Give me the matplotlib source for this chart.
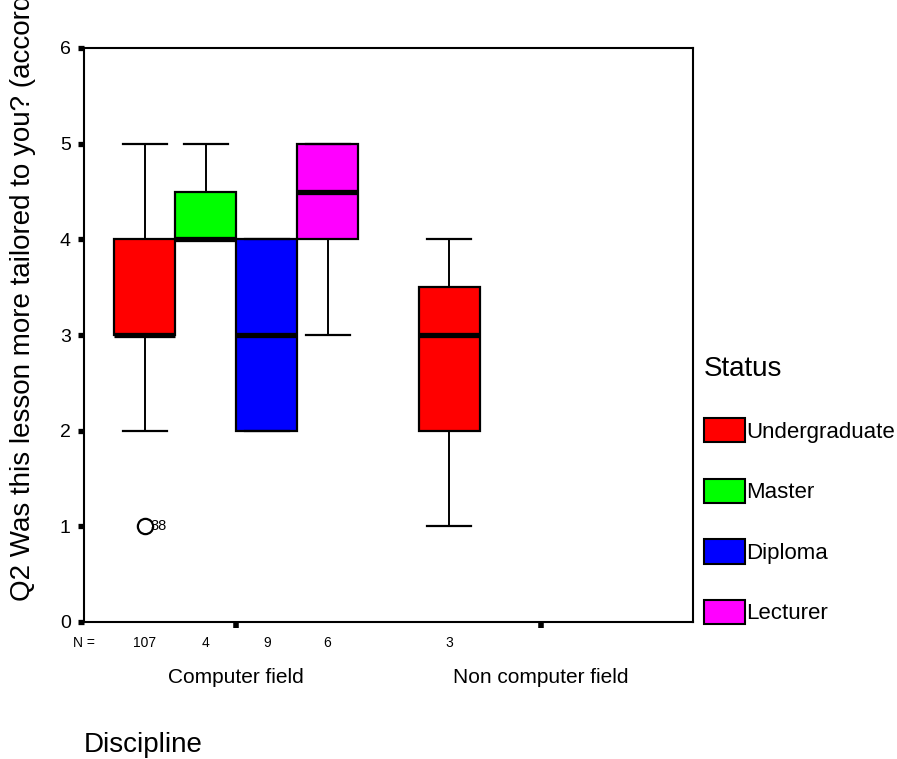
import matplotlib
matplotlib.use('Agg')
import matplotlib.pyplot as plt
import matplotlib.transforms as mtransforms
from matplotlib.patches import Patch

plt.rcParams['font.family'] = ['Liberation Sans', 'DejaVu Sans']

disciplines = ['Computer field', 'Non computer field']
statuses = ['Undergraduate', 'Master', 'Diploma', 'Lecturer']
status_colors = ['#ff0000', '#00ff00', '#0000ff', '#ff00ff']

# one entry per box drawn
box_discipline = [0, 0, 0, 0, 1]
box_status = [0, 1, 2, 3, 0]
whis_lo = [2, 4, 2, 3, 1]
q1 = [3, 4, 2, 4, 2]
median = [3, 4, 3, 4.5, 3]
q3 = [4, 4.5, 4, 5, 3.5]
whis_hi = [5, 5, 4, 5, 4]
n_cases = [107, 4, 9, 6, 3]

# outlier: box index, value, case label
outlier_box = [0]
outlier_value = [1]
outlier_label = ['38']

box_width = 0.2

fig = plt.figure(figsize=(8.97, 7.59), dpi=100)
ax = fig.add_axes([84 / 897, 1 - 622 / 759, (693 - 84) / 897, (622 - 48) / 759])

positions = [d + 1 + (s - 1.5) * box_width for d, s in zip(box_discipline, box_status)]

stats = []
for i in range(len(positions)):
    fl = [outlier_value[k] for k, b in enumerate(outlier_box) if b == i]
    stats.append(dict(whislo=whis_lo[i], q1=q1[i], med=median[i], q3=q3[i],
                      whishi=whis_hi[i], fliers=fl))

bp = ax.bxp(stats, positions=positions, widths=box_width, capwidths=0.145,
            patch_artist=True, manage_ticks=False,
            boxprops=dict(edgecolor='black', linewidth=1.6),
            medianprops=dict(color='black', linewidth=3.8, solid_capstyle='butt'),
            whiskerprops=dict(color='black', linewidth=1.4),
            capprops=dict(color='black', linewidth=1.6),
            flierprops=dict(marker='o', markersize=11, markerfacecolor='white',
                            markeredgecolor='black', markeredgewidth=1.6))
for patch, s in zip(bp['boxes'], box_status):
    patch.set_facecolor(status_colors[s])

for b, v, lab in zip(outlier_box, outlier_value, outlier_label):
    ax.text(positions[b] + 0.018, v, lab, fontsize=10.5, ha='left', va='center')

ax.set_xlim(0.5, 2.5)
ax.set_ylim(0, 6)
ax.set_yticks(range(7))
ax.set_xticks([1, 2])
ax.set_xticklabels(disciplines, fontsize=15)
ax.tick_params(axis='y', length=4.5, width=3.8, labelsize=14, pad=5)
ax.tick_params(axis='x', length=4, width=4, pad=29)
for sp in ax.spines.values():
    sp.set_linewidth(1.5)

# N = row
trans = mtransforms.blended_transform_factory(ax.transData, ax.transAxes)
ax.text(0.536, -0.037, 'N =', transform=trans, fontsize=10, ha='right', va='center')
for p, n in zip(positions, n_cases):
    ax.text(p, -0.037, str(n), transform=trans, fontsize=10, ha='center', va='center')

fig.text(23 / 897, 1 - 601 / 759, 'Q2 Was this lesson more tailored to you? (according to level)',
         rotation=90, ha='center', va='bottom', fontsize=20)
fig.text(84 / 897, 1 - 745 / 759, 'Discipline', ha='left', va='center', fontsize=20)

handles = [Patch(facecolor=c, edgecolor='black', linewidth=1.5) for c in status_colors]
leg = fig.legend(handles, statuses, loc='upper left', bbox_to_anchor=(704 / 897, 1 - 356 / 759),
                 frameon=False, title='Status', title_fontsize=20, fontsize=16,
                 alignment='left', borderpad=0, borderaxespad=0, handlelength=1.85,
                 handleheight=1.31, handletextpad=0.05, labelspacing=1.62)

fig.savefig('out.png', dpi=100)
